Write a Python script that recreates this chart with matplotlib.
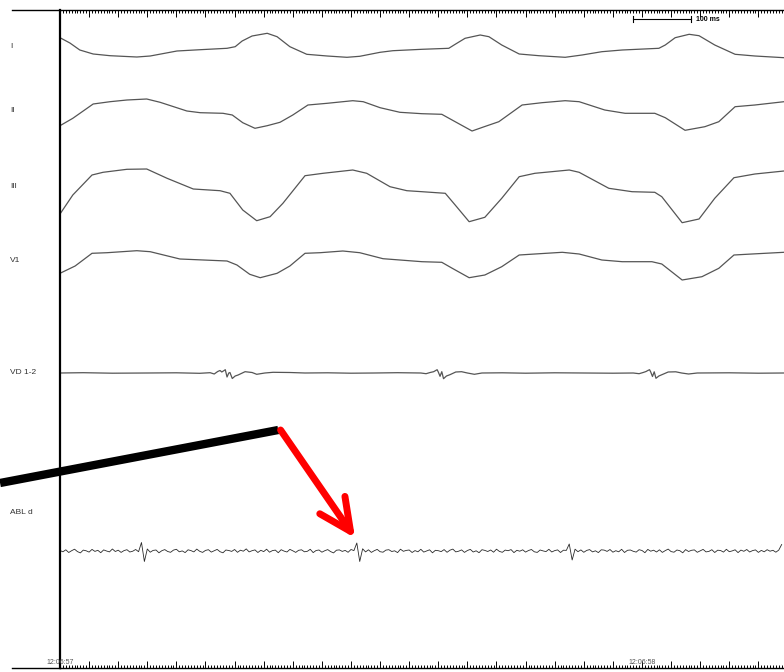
import numpy as np
import matplotlib
matplotlib.use("Agg")
import matplotlib.pyplot as plt
from matplotlib.ticker import MultipleLocator

plt.rcParams['font.family'] = ['Liberation Sans', 'DejaVu Sans']

# time in ms from 12:06:57, amplitudes in screen units above each channel's baseline
lead_i_t = [0, 17, 34, 57, 86, 132, 155, 201, 241, 287, 301, 313, 330, 356, 373, 395, 424, 459,
            493, 515, 550, 572, 622, 668, 679, 696, 722, 737, 759, 789, 823, 868, 897, 931, 966,
            1029, 1040, 1057, 1081, 1098, 1125, 1160, 1194, 1244]
lead_i_v = [12.3, 7, 0, -4, -5.7, -7, -6, -1, 0.3, 1.7, 3.3, 9, 14, 16.7, 13.3, 3.3, -4.3, -6,
            -7.3, -6.3, -2.3, -0.7, 0.7, 1.7, 5.7, 11.7, 15, 13.3, 5, -4, -5.7, -7.3, -5, -1.7, 0,
            1.7, 5, 12.3, 15.7, 14.3, 5, -4.3, -6, -7.7]

lead_ii_t = [0, 22, 57, 86, 115, 149, 172, 218, 241, 280, 296, 314, 335, 356, 378, 400, 426, 459,
             503, 521, 550, 584, 622, 656, 679, 708, 729, 754, 794, 828, 868, 892, 936, 971, 1022,
             1040, 1074, 1108, 1132, 1160, 1194, 1244]
lead_ii_v = [-13.7, -6.3, 8, 10.3, 12, 13, 9.7, 1, -0.7, -1.3, -3, -10.7, -16.3, -13.7, -10.3, -3,
             7, 8.7, 11.3, 10.3, 4.3, -0.3, -1.7, -2.3, -9.7, -19, -14.7, -9.7, 7, 9.3, 11.3, 10.3,
             2, -1.3, -1.3, -5.7, -18.3, -14.7, -9.7, 5.3, 7, 10.3]

lead_iii_t = [0, 22, 55, 74, 115, 149, 184, 229, 275, 292, 314, 338, 361, 383, 421, 452, 503, 527,
              567, 596, 622, 662, 679, 703, 730, 759, 789, 816, 875, 892, 943, 983, 1022, 1034,
              1069, 1098, 1125, 1158, 1194, 1244]
lead_iii_v = [-24, -5, 15, 17.7, 20.7, 21, 11.7, 1, -0.7, -3.3, -20, -30.7, -26.7, -13.3, 14.3,
              16.7, 20, 16.7, 3.3, -0.7, -1.7, -3.3, -15, -31.7, -27.3, -8.3, 13.3, 16.7, 20, 17.7,
              1.7, -1.7, -2.3, -6.7, -32.7, -29, -8.3, 12.3, 16, 19]

v1_t = [0, 26, 55, 81, 132, 155, 206, 287, 304, 326, 344, 373, 395, 421, 447, 486, 515, 555, 622,
        656, 674, 703, 730, 759, 789, 816, 863, 892, 931, 966, 1017, 1034, 1069, 1103, 1132, 1158,
        1189, 1244]
v1_v = [-13.3, -6, 6.7, 7.3, 9.3, 8.3, 1, -1, -5, -14.3, -17.7, -13.3, -6, 6.7, 7.3, 9, 7.3, 1.3,
        -1.7, -2.3, -8.3, -17.7, -15, -6.7, 5, 6, 7.7, 6, 0, -1.7, -1.7, -4, -20, -16.7, -8.3, 5,
        6, 7.7]

vd_t = [0, 40, 90, 150, 200, 240, 258, 265, 271, 275, 278, 282, 284, 287, 290, 292, 296, 301, 306,
        318, 330, 338, 352, 366, 395, 421, 460, 500, 540, 580, 620, 629, 636, 642, 645, 648, 650,
        653, 656, 659, 664, 670, 680, 690, 700, 712, 725, 760, 800, 850, 900, 950, 985, 995, 1002,
        1007, 1010, 1013, 1015, 1018, 1021, 1024, 1029, 1035, 1045, 1058, 1068, 1080, 1095, 1150,
        1200, 1244]
vd_v = [0, 0.3, -0.2, 0, 0.2, -0.3, 0.3, -1, 1.5, 2.5, 1, 2.5, 3.3, -4, 0, 0.5, -5.5, -3, -2,
        1.3, 0.5, -1.3, 0, 0.7, 0.5, 0, 0.2, -0.2, 0, 0.3, 0, -0.7, 0.5, 1.3, 2.3, 3.3, 1,
        -3.3, 1.3, -5.7, -3, -1.7, 1, 1.3, 0, -1.3, 0, 0.2, -0.2, 0.2, 0, -0.2, 0, -0.7, 0.5,
        1.5, 2.5, 3.3, 1, -3.5, 1.2, -5.3, -3, -1.5, 1, 1.2, 0, -1, 0, 0.2,
        -0.2, 0]

# ablation distal bipole, sampled every 5 ms
abl_step = 5
abl_v = [0.5, -0.8, 1.2, -1.5, 0.3, 1.8, -0.6, -1.9, 0.9, 0.2,
         -1.1, 1.6, -0.4, 0.7, -1.7, 1.1, 0.0, -0.9, 2.0, -0.5,
         0.8, -1.4, 0.4, 1.3, -1.0, -0.2, 1.5, -0.7, 8.5, -10.5,
         2.0, -1.2, 0.6, 1.0, -1.8, 0.3, 1.4, -0.5, -1.3, 0.9,
         1.7, -0.8, 0.1, -1.6, 1.2, 0.4, -0.9, 1.9, -0.3, -1.4,
         0.6, 1.3, -1.1, 0.2, 1.6, -0.7, -1.8, 1.0, 0.5, -0.4,
         1.5, -1.3, 0.8, -0.2, 2.1, -0.9, 0.3, 1.1, -1.5, 0.7,
         -0.6, 1.8, -1.2, 0.4, 0.9, -1.7, 1.3, -0.1, -1.0, 1.6,
         0.2, -1.4, 0.7, 1.2, -0.8, -0.3, 1.7, -1.6, 0.5, 1.0,
         -1.2, 0.3, 1.4, -0.6, -1.9, 0.8, 1.1, -0.4, 0.6, -1.3,
         1.5, 0.4, 8.0, -10.5, 2.2, -0.9, 1.2, -1.4, 0.3, 1.6,
         -0.7, -1.2, 0.9, 1.3, -0.5, 0.2, -1.6, 1.8, -0.3, 0.6,
         1.0, -1.5, 0.4, -0.8, 1.7, -1.1, 0.1, 1.2, -1.8, 0.7,
         0.3, -0.6, 1.4, -1.3, 0.8, 1.9, -0.9, -0.2, 1.1, -1.4,
         0.5, 1.6, -1.0, 0.2, -1.7, 1.3, 0.6, -0.5, 1.0, -1.2,
         1.8, -0.4, -1.3, 0.9, 0.3, 1.4, -1.6, 0.7, -0.2, 1.2,
         -1.1, 0.5, 1.5, -0.8, -1.4, 1.0, 0.1, -0.6, 1.7, -1.0,
         0.4, 1.1, -1.5, 0.8, 0.6, 7.0, -9.0, 1.8, -0.7, 1.1,
         -1.3, 0.6, 1.4, -0.9, 0.2, -1.6, 1.2, 0.9, -0.4, 1.5,
         -1.2, 0.3, -0.8, 1.7, -1.5, 0.7, 1.0, -0.3, -1.1, 1.3,
         0.5, -1.7, 1.6, -0.2, 0.8, -1.0, 1.2, -1.4, 0.4, 1.9,
         -0.6, -1.2, 1.0, 0.3, -1.8, 1.4, -0.5, 0.7, 1.1, -1.3,
         0.2, 1.6, -0.9, -0.4, 1.3, -1.5, 0.8, 0.5, -1.1, 1.7,
         -0.7, 0.1, 1.2, -1.6, 0.9, -0.3, 1.5, -1.0, 0.4, 1.1,
         -1.4, 0.6, -0.8, 1.3, -0.2, 0.7, -1.2, 0.9, 6.5]

channels = ["I", "II", "III", "V1", "VD 1-2", "ABL d"]
baselines = [50, 112, 190, 260, 373, 551]
label_y = [47, 111, 187, 261, 372, 513]
stamps = ["12:06:57", "12:06:58"]
stamp_t = [0, 1000]

t_end = 1244
ruler_left = -82      # rulers start left of the time axis
label_x = -86
scale_bar = (985, 1085)  # 100 ms calibration bar

fig = plt.figure(figsize=(7.84, 6.72), dpi=100)
ax = fig.add_axes([60 / 784, 4 / 672, 724 / 784, 658 / 672])
ax.set_xlim(0, t_end)
ax.set_ylim(668, 10)

ecg = dict(color="#555555", lw=0.9)
traces = [(lead_i_t, lead_i_v), (lead_ii_t, lead_ii_v), (lead_iii_t, lead_iii_v),
          (v1_t, v1_v), (vd_t, vd_v)]
for (t, v), base in zip(traces, baselines):
    ax.plot(t, base - np.array(v), **ecg)

abl_t = np.arange(len(abl_v)) * abl_step
ax.plot(abl_t, baselines[5] - np.array(abl_v), color="#2a2a2a", lw=0.6)

for name, y in zip(channels, label_y):
    ax.text(label_x, y, name, fontsize=6, color="#333333", ha="left", va="center",
            clip_on=False)

# time rulers along top and bottom
for s in ["right"]:
    ax.spines[s].set_visible(False)
ax.spines["left"].set_linewidth(1.6)
ax.spines["top"].set_linewidth(1.0)
ax.spines["bottom"].set_linewidth(1.0)
ax.plot([ruler_left, 0], [10, 10], color="k", lw=1.0, clip_on=False)
ax.plot([ruler_left, 0], [668, 668], color="k", lw=1.0, clip_on=False)
ax.xaxis.set_major_locator(MultipleLocator(50))
ax.xaxis.set_minor_locator(MultipleLocator(5))
ax.tick_params(axis="x", which="both", top=True, bottom=True, direction="in",
               labelbottom=False, labeltop=False, width=0.7)
ax.tick_params(axis="x", which="major", length=5)
ax.tick_params(axis="x", which="minor", length=2.5)
ax.set_yticks([])

for s, t in zip(stamps, stamp_t):
    ax.text(t, 662, s, fontsize=5, color="#555555", ha="center", va="center")

# calibration bar
x0, x1 = scale_bar
ax.plot([x0, x1], [19, 19], color="k", lw=0.8)
ax.plot([x0, x0], [16, 22], color="k", lw=0.8)
ax.plot([x1, x1], [16, 22], color="k", lw=0.8)
ax.text(x1 + 8, 19.5, "100 ms", fontsize=5, fontweight="bold", ha="left", va="center")

# pointer to the local ablation electrogram
ax.plot([-103, 375], [483, 430], color="k", lw=6, solid_capstyle="butt", clip_on=False,
        zorder=5)
ax.annotate("", xy=(507, 538), xytext=(379, 430),
            arrowprops=dict(arrowstyle="->,head_length=1.15,head_width=0.55", color="#ff0000",
                            lw=5, shrinkA=0, shrinkB=0, mutation_scale=20,
                            capstyle="round", joinstyle="round"),
            zorder=6)

fig.savefig("out.png", dpi=100)
